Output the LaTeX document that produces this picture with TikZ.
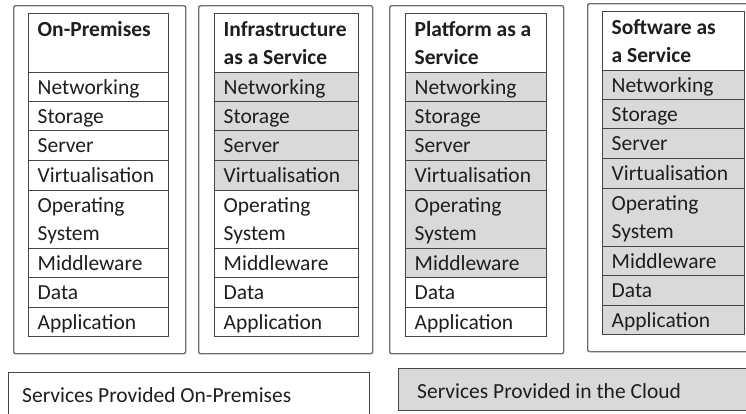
\documentclass[tikz,border=0pt]{standalone}
\usepackage{fontspec}
\setmainfont{Carlito}
\definecolor{cellgray}{HTML}{D9D9D9}
\definecolor{linegray}{HTML}{707070}
\definecolor{celline}{HTML}{454545}
\definecolor{txt}{HTML}{1E1E1E}
\begin{document}
\begin{tikzpicture}[x=1pt,y=-1pt,
  outerbox/.style={draw=linegray, line width=1.4pt, rounded corners=2pt, inner sep=0pt, anchor=north west},
  cellbox/.style={draw=celline, line width=1pt, inner sep=0pt, anchor=north west},
  celltext/.style={anchor=base west, inner sep=0pt, text=txt, font=\fontsize{21.5}{26}\selectfont},
  headtext/.style={celltext, font=\fontsize{21.5}{26}\selectfont\bfseries},
]
\useasboundingbox (0,0) rectangle (746,413);
\clip (0,0) rectangle (746,413);

% outer column frames
\foreach \c/\xa/\ya/\xb/\yb in {1/13/5/185/353, 2/198/5/372/353, 3/389/5/563/353, 4/587/3/760/351}{
  \node[outerbox, minimum width={(\xb-\xa)*1pt}, minimum height={(\yb-\ya)*1pt}] (frame\c) at (\xa,\ya) {};
}

% header cells
\foreach \c/\xl/\xr/\dy in {1/28/168/0, 2/214/358/0, 3/405/546/0, 4/602/744/-2}{
  \node[cellbox, fill=white, minimum width={(\xr-\xl)*1pt}, minimum height=59pt] (c\c h) at (\xl,{13+\dy}) {};
}

% layer cells
\foreach \c/\xl/\xr/\dy/\ng in {1/28/168/0/0, 2/214/358/0/4, 3/405/546/0/6, 4/602/744/-2/8}{
  \foreach \r/\t/\b/\txt in {1/72/101/Networking, 2/101/130/Storage, 3/130/160/Server, 4/160/190/Virtualisation, 5/190/248/Operating, 6/248/277/Middleware, 7/277/307/Data, 8/307/336/Application}{
    \ifnum\r>\ng \def\fillc{white}\else\def\fillc{cellgray}\fi
    \node[cellbox, fill=\fillc, minimum width={(\xr-\xl)*1pt}, minimum height={(\b-\t)*1pt}] (c\c r\r) at (\xl,{\t+\dy}) {};
    \node[celltext] (t\c r\r) at ({\xl+9.5},{\t+\dy+22.5}) {\txt};
  }
  \node[celltext] (t\c os) at ({\xl+9.5},{190+\dy+50.5}) {System};
}

% header texts
\node[headtext] (h1a) at (37.5,36) {On-Premises};
\node[headtext] (h2a) at (223.5,36) {Infrastructure};
\node[headtext] (h2b) at (223.5,64) {as a Service};
\node[headtext] (h3a) at (414.5,36) {Platform as a};
\node[headtext] (h3b) at (414.5,64) {Service};
\node[headtext] (h4a) at (611.5,34) {Software as};
\node[headtext] (h4b) at (611.5,62) {a Service};

% legend
\node[cellbox, fill=white, minimum width=361pt, minimum height=55pt] (legA) at (8,372) {};
\node[celltext] (legAt) at (22,402) {Services Provided On-Premises};
\node[cellbox, fill=cellgray, minimum width=362pt, minimum height=42pt] (legB) at (398,368) {};
\node[celltext] (legBt) at (417,398) {Services Provided in the Cloud};
\end{tikzpicture}
\end{document}
